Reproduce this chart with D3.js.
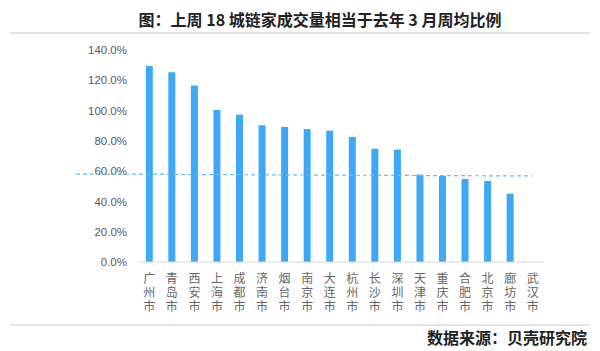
<!DOCTYPE html>
<html>
<head>
    <meta charset="UTF-8">
    <title>上周18城链家成交量相当于去年3月周均比例</title>
    <script src="https://d3js.org/d3.v7.min.js"></script>
    <style>
        body { margin: 0; background: #fff; }
        text { font-family: "Noto Sans CJK SC", "Noto Sans", sans-serif; }
    </style>
</head>
<body>
<script>
    const cities = ["广州市", "青岛市", "西安市", "上海市", "成都市", "济南市", "烟台市", "南京市", "大连市",
        "杭州市", "长沙市", "深圳市", "天津市", "重庆市", "合肥市", "北京市", "廊坊市", "武汉市"];
    const ratios = [129.4, 125.3, 116.5, 100.4, 97.3, 90.3, 89.2, 87.8, 86.7,
        82.6, 74.8, 74.2, 57.7, 56.8, 54.8, 53.5, 45.1, 0];
    const yTicks = [0, 20, 40, 60, 80, 100, 120, 140];
    const refLine = [58.1, 56.8]; // dashed line, left and right end
    const title = "图：上周 18 城链家成交量相当于去年 3 月周均比例";
    const source = "数据来源：贝壳研究院";

    const width = 600, height = 351;
    const plot = { left: 138, right: 544, top: 50, bottom: 262 };

    const svg = d3.select("body").append("svg")
        .attr("width", width).attr("height", height);

    // title + rules
    svg.append("text")
        .attr("x", 320).attr("y", 19)
        .attr("text-anchor", "middle").attr("dominant-baseline", "central")
        .attr("font-size", 16).attr("font-weight", "bold").attr("fill", "#222")
        .text(title);
    svg.append("line").attr("x1", 10).attr("x2", 590).attr("y1", 33).attr("y2", 33)
        .attr("stroke", "#c8c8c8");
    svg.append("line").attr("x1", 10).attr("x2", 590).attr("y1", 325).attr("y2", 325)
        .attr("stroke", "#c8c8c8");
    svg.append("text")
        .attr("x", 587).attr("y", 337)
        .attr("text-anchor", "end").attr("dominant-baseline", "central")
        .attr("font-size", 16).attr("font-weight", "bold").attr("fill", "#222")
        .text(source);

    const x = d3.scaleBand()
        .domain(cities)
        .range([plot.left, plot.right])
        .paddingInner(0.69).paddingOuter(0.345);

    const y = d3.scaleLinear()
        .domain([0, 140])
        .range([plot.bottom, plot.top]);

    // y axis labels
    const yAxis = d3.axisLeft(y).tickValues(yTicks)
        .tickFormat(d => d.toFixed(1) + "%").tickSize(0).tickPadding(0);
    const gy = svg.append("g").attr("transform", "translate(127,0)").call(yAxis);
    gy.select(".domain").remove();
    gy.selectAll("text").attr("font-size", 11.5).attr("fill", "#595959")
        .style("font-family", "'Liberation Sans', Arial, sans-serif");

    // bars
    svg.selectAll("rect.bar")
        .data(ratios)
        .enter().append("rect")
        .attr("class", "bar")
        .attr("x", (d, i) => x(cities[i]))
        .attr("y", d => y(d))
        .attr("width", x.bandwidth())
        .attr("height", d => y(0) - y(d))
        .attr("fill", "#3ea8f4");

    // x axis line
    svg.append("line")
        .attr("x1", plot.left).attr("x2", plot.right)
        .attr("y1", y(0)).attr("y2", y(0))
        .attr("stroke", "#d9d9d9");

    // vertical city labels, one text per character
    const chars = cities.flatMap(c => c.split("").map((ch, k) => ({ c, ch, k })));
    svg.selectAll("text.city")
        .data(chars)
        .enter().append("text")
        .attr("class", "city")
        .attr("x", d => x(d.c) + x.bandwidth() / 2)
        .attr("y", d => 277 + d.k * 14)
        .attr("text-anchor", "middle").attr("dominant-baseline", "central")
        .attr("font-size", 12).attr("fill", "#666")
        .text(d => d.ch);

    // dashed reference line
    svg.append("line")
        .attr("x1", plot.left - 62)
        .attr("x2", x("武汉市") + x.bandwidth() / 2)
        .attr("y1", y(refLine[0])).attr("y2", y(refLine[1]))
        .attr("stroke", "#6bbbe8").attr("stroke-width", 1.2)
        .attr("stroke-dasharray", "4,3");
</script>
</body>
</html>
